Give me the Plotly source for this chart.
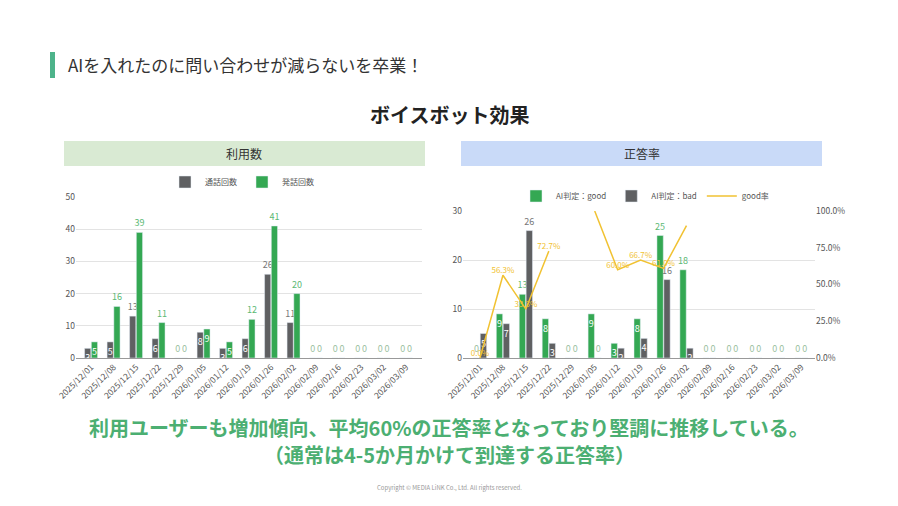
import plotly.graph_objects as go

weeks = ["2025/12/01", "2025/12/08", "2025/12/15", "2025/12/22", "2025/12/29",
         "2026/01/05", "2026/01/12", "2026/01/19", "2026/01/26", "2026/02/02",
         "2026/02/09", "2026/02/16", "2026/02/23", "2026/03/02", "2026/03/09"]

# 利用数
calls = [3, 5, 13, 6, 0, 8, 3, 6, 26, 11, 0, 0, 0, 0, 0]
utterances = [5, 16, 39, 11, 0, 9, 5, 12, 41, 20, 0, 0, 0, 0, 0]

# 正答率
good = [0, 9, 13, 8, 0, 9, 3, 8, 25, 18, 0, 0, 0, 0, 0]
bad = [5, 7, 26, 3, 0, 0, 2, 4, 16, 2, 0, 0, 0, 0, 0]
good_rate = [0.0, 0.563, 0.333, 0.727, None, 1.0, 0.60, 0.667, 0.61, 0.90,
             None, None, None, None, None]
rate_labels = ["0.0%", "56.3%", "33.3%", "72.7%", "", "", "60.0%", "66.7%", "61.0%", "",
               "", "", "", "", ""]

# page body has an 8px margin, so the figure is drawn 8px in from the window edge
W, H, OFF = 882, 490, 8
FONT = "Noto Sans CJK JP"
GREEN = "#34a853"
GRAY = "#5f6062"
YELLOW = "#f1c232"


def px(x):
    return (x - OFF) / W


def py(y):
    return 1 - (y - OFF) / H


def bar_text(vals, out_color):
    pos = ["inside" if 0 < v < 10 else "outside" for v in vals]
    cols = ["#ffffff" if 0 < v < 10 else ("#9bbf9f" if v == 0 else out_color) for v in vals]
    return pos, cols


def add_bars(x, vals, name, color, out_color, xa, ya, leg):
    pos, cols = bar_text(vals, out_color)
    fig.add_trace(go.Bar(x=x, y=vals, name=name, marker_color=color,
                         text=vals, textposition=pos, textfont=dict(size=9, color=cols),
                         insidetextanchor="end", constraintext="none", cliponaxis=False,
                         xaxis=xa, yaxis=ya, legend=leg))


fig = go.Figure()
add_bars(weeks, calls, "通話回数", GRAY, "#777777", "x", "y", "legend")
add_bars(weeks, utterances, "発話回数", GREEN, "#5bb974", "x", "y", "legend")
add_bars(weeks, good, "AI判定：good", GREEN, "#5bb974", "x2", "y2", "legend2")
add_bars(weeks, bad, "AI判定：bad", GRAY, "#777777", "x2", "y2", "legend2")
fig.add_trace(go.Scatter(x=weeks, y=good_rate, name="good率", mode="lines+text",
                         line=dict(color=YELLOW, width=1.5), connectgaps=False,
                         text=rate_labels, textposition="top center",
                         textfont=dict(size=8, color=YELLOW), cliponaxis=False,
                         xaxis="x2", yaxis="y3", legend="legend2"))

tick_font = dict(family=FONT, size=8.5, color="#555555")
y0 = py(358)

fig.update_layout(
    width=W, height=H, margin=dict(l=0, r=0, t=0, b=0, autoexpand=False),
    paper_bgcolor="white", plot_bgcolor="white",
    font=dict(family=FONT, color="#333333"),
    barmode="group", bargap=0.4, bargroupgap=0.08,
    xaxis=dict(domain=[px(76), px(422)], anchor="y", type="category", tickangle=-45,
               range=[-0.67, 14.71], tickfont=tick_font, showline=True,
               linecolor="#999999", ticks="", automargin=False),
    yaxis=dict(domain=[y0, py(197)], anchor="x", range=[0, 50], dtick=10,
               gridcolor="#e3e3e3", zeroline=False, tickfont=tick_font, automargin=False),
    xaxis2=dict(domain=[px(463), px(815)], anchor="y2", type="category", tickangle=-45,
                range=[-0.74, 14.6], tickfont=tick_font, showline=True,
                linecolor="#999999", ticks="", automargin=False),
    yaxis2=dict(domain=[y0, py(211)], anchor="x2", range=[0, 30], dtick=10,
                gridcolor="#e3e3e3", zeroline=False, tickfont=tick_font, automargin=False),
    yaxis3=dict(overlaying="y2", side="right", anchor="x2", range=[0, 1], dtick=0.25,
                tickformat=".1%", showgrid=False, zeroline=False, tickfont=tick_font,
                automargin=False),
    legend=dict(orientation="h", x=px(242), xanchor="center", y=py(182), yanchor="middle",
                font=dict(family=FONT, size=8, color="#555555"), itemwidth=30),
    legend2=dict(orientation="h", x=px(645), xanchor="center", y=py(196), yanchor="middle",
                 font=dict(family=FONT, size=8, color="#555555"), itemwidth=30),
)

# header
fig.add_shape(type="rect", xref="paper", yref="paper", x0=px(50), x1=px(55),
              y0=py(78), y1=py(52), fillcolor="#4db38a", line_width=0)
fig.add_annotation(text="AIを入れたのに問い合わせが減らないを卒業！", xref="paper", yref="paper",
                   x=px(66), y=py(65), xanchor="left", yanchor="middle", showarrow=False,
                   font=dict(family=FONT, size=17, color="#333333"))
fig.add_annotation(text="<b>ボイスボット効果</b>", xref="paper", yref="paper",
                   x=px(449), y=py(114), xanchor="center", yanchor="middle", showarrow=False,
                   font=dict(family=FONT, size=20, color="#222222"))

# panel headers
for x0, x1, color, label in [(64, 425, "#d9ead3", "利用数"), (461, 822, "#c9daf8", "正答率")]:
    fig.add_shape(type="rect", xref="paper", yref="paper", x0=px(x0), x1=px(x1),
                  y0=py(166), y1=py(141), fillcolor=color, line_width=0, layer="below")
    fig.add_annotation(text=label, xref="paper", yref="paper", x=px((x0 + x1) / 2),
                       y=py(153.5), xanchor="center", yanchor="middle", showarrow=False,
                       font=dict(family=FONT, size=12, color="#333333"))

# summary
fig.add_annotation(text="<b>利用ユーザーも増加傾向、平均60%の正答率となっており堅調に推移している。</b>",
                   xref="paper", yref="paper", x=px(449), y=py(427), xanchor="center",
                   yanchor="middle", showarrow=False,
                   font=dict(family=FONT, size=20, color="#4caf72"))
fig.add_annotation(text="<b>（通常は4-5か月かけて到達する正答率）</b>",
                   xref="paper", yref="paper", x=px(449), y=py(454), xanchor="center",
                   yanchor="middle", showarrow=False,
                   font=dict(family=FONT, size=20, color="#4caf72"))
fig.add_annotation(text="Copyright © MEDIA LiNK Co., Ltd. All rights reserved.",
                   xref="paper", yref="paper", x=px(449), y=py(487), xanchor="center",
                   yanchor="middle", showarrow=False,
                   font=dict(family=FONT, size=6, color="#999999"))

fig.write_html("out.html")
